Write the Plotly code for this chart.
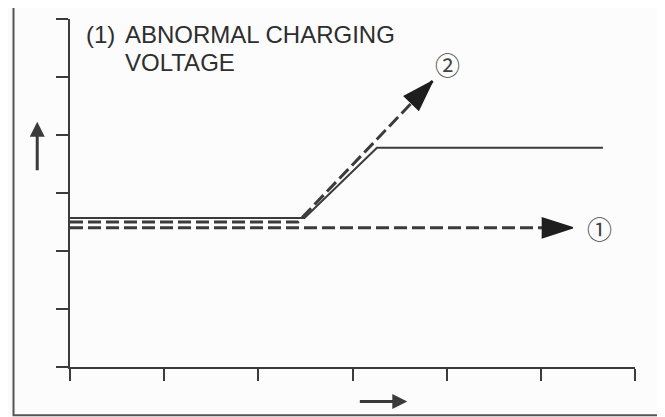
import plotly.graph_objects as go

# time axis / voltage axis in grid units (6 divisions each)
ticks = [0, 1, 2, 3, 4, 5, 6]

# normal charging voltage (solid)
normal_x = [0, 2.49, 3.26, 5.66]
normal_y = [2.57, 2.57, 3.78, 3.78]

# abnormal case (1): stays low
case1_x = [0, 5.34]
case1_y = [2.40, 2.40]

# abnormal case (2): keeps climbing
case2_x = [0, 2.42, 3.85]
case2_y = [2.50, 2.50, 4.93]

label_text = ["①", "②"]
label_x = [5.62, 4.01]
label_y = [2.40, 5.23]

ink = "#3b3b3b"

fig = go.Figure()

fig.add_trace(go.Scatter(x=normal_x, y=normal_y, mode="lines",
                         line=dict(color=ink, width=2), hoverinfo="skip"))

for xs, ys in [(case1_x, case1_y), (case2_x, case2_y)]:
    sizes = [0] * (len(xs) - 1) + [32]
    fig.add_trace(go.Scatter(
        x=xs, y=ys, mode="lines+markers",
        line=dict(color=ink, width=3, dash="13px,5px"),
        marker=dict(symbol="arrow", size=sizes, angleref="previous", opacity=1,
                    color="#1e1e1e", line=dict(width=1.5, color="#1e1e1e")),
        hoverinfo="skip"))

for t, x, y in zip(label_text, label_x, label_y):
    fig.add_annotation(x=x, y=y, text=t, showarrow=False,
                       font=dict(family="Noto Sans CJK JP", size=25, color="#444"))

# title lines
title_font = dict(family="Liberation Sans", size=24, color="#2e2e2e")
fig.add_annotation(xref="paper", yref="paper", x=0.025, y=1.0, text="(1)",
                   showarrow=False, xanchor="left", yanchor="top", font=title_font)
fig.add_annotation(xref="paper", yref="paper", x=0.093, y=1.0, text="ABNORMAL CHARGING",
                   showarrow=False, xanchor="left", yanchor="top", font=title_font)
fig.add_annotation(xref="paper", yref="paper", x=0.093, y=0.92, text="VOLTAGE",
                   showarrow=False, xanchor="left", yanchor="top", font=title_font)

# axis direction arrows
fig.add_annotation(xref="paper", yref="paper", x=-0.058, y=0.705, ax=0, ay=50,
                   text="", showarrow=True, arrowhead=2, arrowwidth=3,
                   arrowsize=1, arrowcolor=ink)
fig.add_annotation(xref="paper", yref="paper", x=0.597, y=-0.099, ax=-49, ay=0,
                   text="", showarrow=True, arrowhead=2, arrowwidth=3,
                   arrowsize=1, arrowcolor=ink)

# outer frame
fig.add_shape(type="rect", xref="paper", yref="paper",
              x0=-0.1, x1=1.047, y0=-0.139, y1=1.035,
              line=dict(color="#555", width=2))

axis_style = dict(range=[0, 6], tickvals=ticks, showticklabels=False,
                  ticks="outside", ticklen=12, tickwidth=2, tickcolor=ink,
                  showline=True, linecolor=ink, linewidth=2,
                  showgrid=False, zeroline=False, fixedrange=True)

# page body adds an 8px offset, so the figure is 8px smaller with trimmed margins
fig.update_layout(
    width=657, height=409,
    margin=dict(l=62, r=30, t=11, b=50),
    paper_bgcolor="#fcfcfc", plot_bgcolor="#fcfcfc",
    showlegend=False,
    xaxis=axis_style, yaxis=axis_style,
)

fig.write_html("out.html")
